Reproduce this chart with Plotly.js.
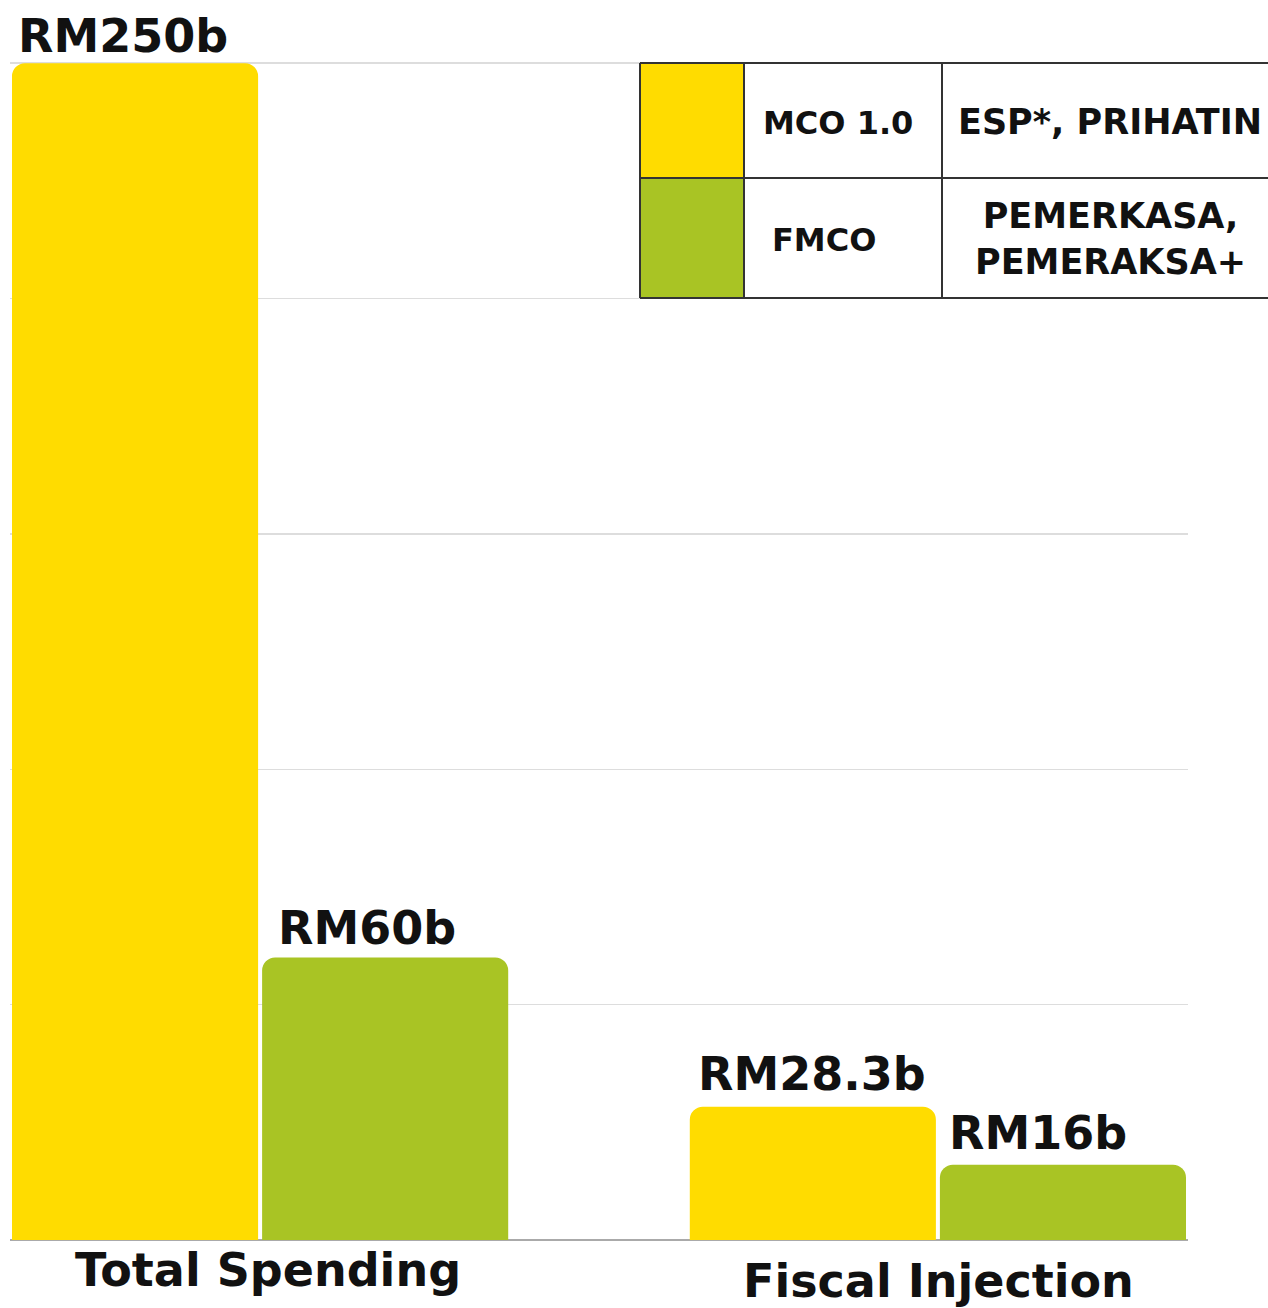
<!DOCTYPE html>
<html>
<head>
<meta charset="utf-8">
<script src="https://cdn.plot.ly/plotly-3.0.1.min.js"></script>
<style>html,body{margin:0;padding:0;background:#fff;}#chart{width:1268px;height:1308px;}</style>
</head>
<body>
<div id="chart"></div>
<script>
// ---- data ----
const categories = ['Total Spending', 'Fiscal Injection'];
const mcoValues = [250, 28.3];
const fmcoValues = [60, 16];
const seriesNames = ['MCO 1.0', 'FMCO'];
const packageNames = ['ESP*, PRIHATIN', 'PEMERKASA,<br>PEMERAKSA+'];
const seriesColors = ['#FFDC00', '#A9C424'];

// ---- layout helpers (pixel -> paper) ----
const W = 1268, H = 1308;
const M = {l: 10, r: 80, t: 62, b: 68};
const pw = W - M.l - M.r, ph = H - M.t - M.b;
const px = v => (v - M.l) / pw;
const py = v => (H - M.b - v) / ph;

const FONT = 'DejaVu Sans, sans-serif';
const fmt = v => 'RM' + v + 'b';

const traces = [
  {type: 'bar', x: categories, y: mcoValues, name: seriesNames[0],
   marker: {color: seriesColors[0], cornerradius: 13}, hoverinfo: 'skip'},
  {type: 'bar', x: categories, y: fmcoValues, name: seriesNames[1],
   marker: {color: seriesColors[1], cornerradius: 13}, hoverinfo: 'skip'}
];

const annotations = [];
// value labels
const labelShift = [[-244, 16], [-242, 9]];
const labelYShift = [[-2, 1], [4, 3]];
categories.forEach((c, i) => {
  [mcoValues, fmcoValues].forEach((arr, s) => {
    annotations.push({x: i, y: arr[i], xref: 'x', yref: 'y', text: fmt(arr[i]),
      showarrow: false, xanchor: 'left', yanchor: 'bottom', xshift: labelShift[i][s], yshift: labelYShift[i][s],
      font: {family: FONT, size: 46, color: '#111', weight: 'bold'}});
  });
});
// category labels
const catY = [1270, 1281];
const catShift = [8, 1];
categories.forEach((c, i) => {
  annotations.push({x: i, y: py(catY[i]), xref: 'x', yref: 'paper', text: c, showarrow: false,
    xanchor: 'center', yanchor: 'middle', xshift: catShift[i],
    font: {family: FONT, size: 46, color: '#111', weight: 'bold'}});
});

// legend table
const colX = [640, 744, 942, 1268];
const rowY = [63, 178, 298];
const shapes = [];
for (let r = 0; r < 2; r++) {
  shapes.push({type: 'rect', xref: 'paper', yref: 'paper', layer: 'above',
    x0: px(colX[0]), x1: px(colX[1]), y0: py(rowY[r + 1]), y1: py(rowY[r]),
    fillcolor: seriesColors[r], line: {width: 0}});
  shapes.push({type: 'rect', xref: 'paper', yref: 'paper', layer: 'above',
    x0: px(colX[1]), x1: px(colX[3]), y0: py(rowY[r + 1]), y1: py(rowY[r]),
    fillcolor: '#ffffff', line: {width: 0}});
}
rowY.forEach(y => shapes.push({type: 'line', xref: 'paper', yref: 'paper', layer: 'above',
  x0: px(colX[0]), x1: px(colX[3]), y0: py(y), y1: py(y), line: {color: '#333', width: 2}}));
colX.slice(0, 3).forEach(x => shapes.push({type: 'line', xref: 'paper', yref: 'paper', layer: 'above',
  x0: px(x), x1: px(x), y0: py(rowY[0]), y1: py(rowY[2]), line: {color: '#333', width: 2}}));

const nameX = [838, 824];
const pkgX = [1110, 1110];
for (let r = 0; r < 2; r++) {
  const yc = py((rowY[r] + rowY[r + 1]) / 2);
  annotations.push({x: px(nameX[r]), y: yc, xref: 'paper', yref: 'paper', text: seriesNames[r],
    showarrow: false, xanchor: 'center', yanchor: 'middle', yshift: -2,
    font: {family: FONT, size: 32, color: '#111', weight: 'bold'}});
  annotations.push({x: px(pkgX[r]), y: yc, xref: 'paper', yref: 'paper', text: packageNames[r],
    showarrow: false, xanchor: 'center', yanchor: 'middle', align: 'center', yshift: -1,
    font: {family: FONT, size: 35, color: '#111', weight: 'bold'}});
}

const layout = {
  width: W, height: H,
  margin: M,
  paper_bgcolor: '#ffffff', plot_bgcolor: '#ffffff',
  barmode: 'group', bargap: 0.262, bargroupgap: 0.016,
  showlegend: false,
  xaxis: {type: 'category', range: [-0.369, 1.369], showticklabels: false, showgrid: false,
    zeroline: false, showline: false, ticks: ''},
  yaxis: {range: [0, 250.25], dtick: 50, showticklabels: false, showgrid: true, gridcolor: '#dddddd',
    gridwidth: 1.5, zeroline: true, zerolinecolor: '#aaaaaa', zerolinewidth: 1.5, ticks: ''},
  annotations: annotations,
  shapes: shapes
};

Plotly.newPlot('chart', traces, layout, {displayModeBar: false, staticPlot: true});
</script>
</body>
</html>
